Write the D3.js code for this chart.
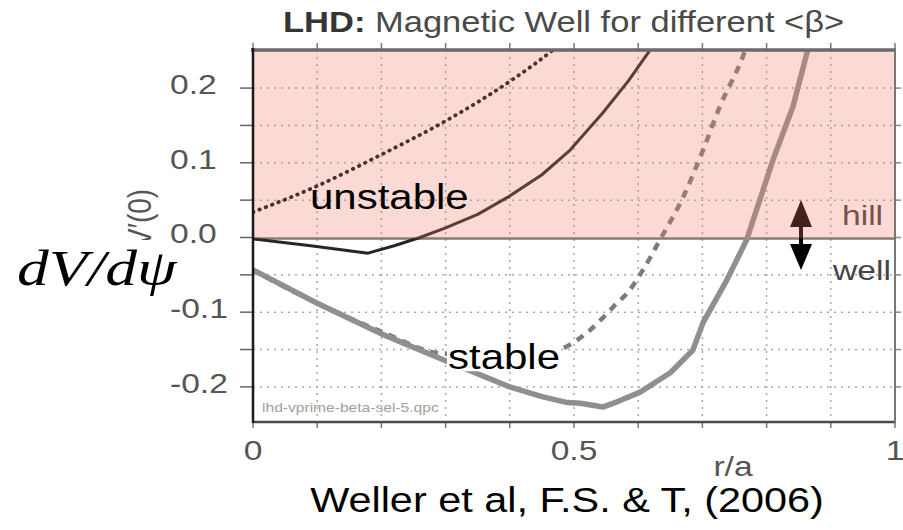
<!DOCTYPE html>
<html>
<head>
<meta charset="utf-8">
<script src="https://cdn.jsdelivr.net/npm/d3@7/dist/d3.min.js"></script>
<style>
  html, body { margin: 0; padding: 0; background: #fff; }
  svg { display: block; }
</style>
</head>
<body>
<svg id="chart" width="903" height="530"></svg>
<script>
// ---------------- DATA ----------------
const titleBold = "LHD:";
const titleRest = " Magnetic Well for different <\u03b2>";
const xTickValues = [0, 0.5, 1];
const xTickLabels = ["0", "0.5", "1"];
const yTickValues = [-0.2, -0.1, 0.0, 0.1, 0.2];
const yTickLabels = ["-0.2", "-0.1", "0.0", "0.1", "0.2"];
const xLabel = "r/a";
const yLabelOriginal = "V\u2032(0)";
const yLabelOverlay = "dV/d\u03c8";
const citation = "Weller et al, F.S. & T, (2006)";
const fileTag = "lhd-vprime-beta-sel-5.qpc";
const regionLabels = ["unstable", "stable"];
const sideLabels = ["hill", "well"];

// dotted curve (highest <beta> hill)
const dottedR = [0, 0.1, 0.2, 0.3, 0.4, 0.47, 0.5];
const dottedV = [0.034, 0.069, 0.111, 0.156, 0.209, 0.253, 0.275];
// thin dark solid curve
const solidR = [0, 0.09, 0.179, 0.22, 0.26, 0.3, 0.35, 0.397, 0.45, 0.494, 0.545, 0.585, 0.621, 0.64];
const solidV = [-0.002, -0.011, -0.021, -0.011, 0.0, 0.013, 0.031, 0.054, 0.084, 0.117, 0.167, 0.21, 0.254, 0.28];
// dashed grey curve
const dashedR = [0, 0.1, 0.2, 0.29, 0.35, 0.4, 0.45, 0.478, 0.525, 0.561, 0.587, 0.607, 0.634, 0.67, 0.701, 0.727, 0.762, 0.775];
const dashedV = [-0.044, -0.088, -0.126, -0.155, -0.158, -0.159, -0.155, -0.15, -0.124, -0.093, -0.07, -0.044, -0.003, 0.054, 0.117, 0.175, 0.24, 0.27];
// thick grey solid curve
const thickR = [0, 0.1, 0.2, 0.3, 0.4, 0.45, 0.49, 0.51, 0.545, 0.57, 0.603, 0.65, 0.685, 0.701, 0.738, 0.769, 0.81, 0.841, 0.864, 0.875];
const thickV = [-0.0435, -0.088, -0.129, -0.165, -0.2, -0.213, -0.221, -0.222, -0.227, -0.219, -0.207, -0.181, -0.151, -0.114, -0.057, -0.003, 0.104, 0.175, 0.251, 0.29];

// ---------------- LAYOUT ----------------
const svg = d3.select("#chart");
const L = 253, R = 895, T = 50, B = 422;
const x = d3.scaleLinear().domain([0, 1]).range([L, R]);
const y = d3.scaleLinear().domain([-0.247, 0.251]).range([B, T]);
const SX = 1.2; // horizontal stretch of the source picture
const FONT = "'Liberation Sans', Arial, Helvetica, sans-serif";

function stext(g, px, py, str, size, anchor, fill, weight) {
  return g.append("text")
    .attr("transform", `translate(${px},${py}) scale(${SX},1)`)
    .attr("text-anchor", anchor || "start")
    .attr("font-family", FONT)
    .attr("font-size", size)
    .attr("font-weight", weight || "normal")
    .attr("fill", fill || "#000")
    .text(str);
}

const defs = svg.append("defs");
defs.append("clipPath").attr("id", "plotclip")
  .append("rect").attr("x", L).attr("y", T).attr("width", R - L).attr("height", B - T);

// ---------------- TITLE ----------------
const title = svg.append("text")
  .attr("transform", `translate(283,32) scale(1.17,1)`)
  .attr("font-family", FONT).attr("font-size", 29.5);
title.append("tspan").attr("font-weight", "bold").attr("fill", "#353535").text(titleBold);
title.append("tspan").attr("fill", "#4a4a4a").text(titleRest);

// ---------------- GRID ----------------
const plot = svg.append("g");
const hGrid = d3.range(-0.2, 0.2001, 0.05).filter(v => Math.abs(v) > 1e-6);
plot.selectAll("line.hg").data(hGrid).join("line")
  .attr("x1", L).attr("x2", R).attr("y1", d => y(d)).attr("y2", d => y(d))
  .attr("stroke", "#a8a8a8").attr("stroke-width", 1.5).attr("stroke-dasharray", "2,5");
const vGrid = d3.range(0.1, 0.95, 0.1);
plot.selectAll("line.vg").data(vGrid).join("line")
  .attr("x1", d => x(d)).attr("x2", d => x(d)).attr("y1", T).attr("y2", B)
  .attr("stroke", "#a8a8a8").attr("stroke-width", 1.5).attr("stroke-dasharray", "2,5");

// zero line
plot.append("line").attr("x1", L).attr("x2", R).attr("y1", y(0) + 1).attr("y2", y(0) + 1)
  .attr("stroke", "#7a7a7a").attr("stroke-width", 2.5);

// ---------------- CURVES ----------------
const curves = plot.append("g").attr("clip-path", "url(#plotclip)");
function series(rs, vs) { return rs.map((r, i) => [r, vs[i]]); }
const lineMono = d3.line().x(d => x(d[0])).y(d => y(d[1])).curve(d3.curveMonotoneX);
const lineLin = d3.line().x(d => x(d[0])).y(d => y(d[1])).curve(d3.curveLinear);

curves.append("path").attr("d", lineMono(series(dashedR, dashedV)))
  .attr("fill", "none").attr("stroke", "#7c7c7c").attr("stroke-width", 4.5)
  .attr("stroke-dasharray", "8,7");
curves.append("path").attr("d", lineLin(series(thickR, thickV)))
  .attr("fill", "none").attr("stroke", "#8f8f8f").attr("stroke-width", 5.5)
  .attr("stroke-linejoin", "round");
curves.append("path").attr("d", lineLin(series(solidR, solidV)))
  .attr("fill", "none").attr("stroke", "#262626").attr("stroke-width", 3)
  .attr("stroke-linejoin", "round");
curves.append("path").attr("d", lineMono(series(dottedR, dottedV)))
  .attr("fill", "none").attr("stroke", "#141414").attr("stroke-width", 3.8)
  .attr("stroke-linecap", "round").attr("stroke-dasharray", "0.5,6.3");

// hill / well arrow & labels
const ax = 801;
plot.append("path").attr("d", `M${ax},${200} L${ax - 11},${227} L${ax + 11},${227} Z`).attr("fill", "#000");
plot.append("rect").attr("x", ax - 2).attr("y", 224).attr("width", 4).attr("height", 24).attr("fill", "#000");
plot.append("path").attr("d", `M${ax - 11},${244} L${ax + 11},${244} L${ax},${270} Z`).attr("fill", "#000");
stext(plot, 842, 225, sideLabels[0], 28, "start", "#444");
stext(plot, 833, 280, sideLabels[1], 28, "start", "#444");

// file tag
stext(plot, 262, 412, fileTag, 13, "start", "#a0a0a0");

// ---------------- PINK OVERLAY (on top of curves) ----------------
svg.append("rect").attr("x", L).attr("y", T).attr("width", R - L).attr("height", y(0) + 1 - T)
  .attr("fill", "rgb(240,120,100)").attr("fill-opacity", 0.28);

// ---------------- AXES / FRAME ----------------
const frame = svg.append("g");
const yMinor = d3.range(-0.2, 0.2001, 0.05);
frame.selectAll("line.lt").data(yMinor).join("line")
  .attr("x1", L - 13).attr("x2", L).attr("y1", d => y(d)).attr("y2", d => y(d))
  .attr("stroke", "#666").attr("stroke-width", 1.5);
frame.selectAll("line.rt").data(yMinor).join("line")
  .attr("x1", R).attr("x2", R + 6).attr("y1", d => y(d)).attr("y2", d => y(d))
  .attr("stroke", "#888").attr("stroke-width", 1.5);
const xMinor = d3.range(0, 1.001, 0.1);
frame.selectAll("line.bt").data(xMinor).join("line")
  .attr("x1", d => x(d)).attr("x2", d => x(d)).attr("y1", B).attr("y2", B + 6)
  .attr("stroke", "#777").attr("stroke-width", 1.5);
frame.selectAll("line.tt").data(xMinor).join("line")
  .attr("x1", d => x(d)).attr("x2", d => x(d)).attr("y1", T - 7).attr("y2", T)
  .attr("stroke", "#777").attr("stroke-width", 1.5);

frame.append("line").attr("x1", L - 2).attr("x2", R + 1).attr("y1", T).attr("y2", T)
  .attr("stroke", "#6a6a6a").attr("stroke-width", 3.5);
frame.append("line").attr("x1", L).attr("x2", R + 1).attr("y1", B).attr("y2", B)
  .attr("stroke", "#4a4a4a").attr("stroke-width", 2.5);
frame.append("line").attr("x1", L).attr("x2", L).attr("y1", T - 2).attr("y2", B + 1)
  .attr("stroke", "#1a1a1a").attr("stroke-width", 2.5);
frame.append("line").attr("x1", R).attr("x2", R).attr("y1", T - 2).attr("y2", B + 1)
  .attr("stroke", "#777").attr("stroke-width", 2);

// tick labels
yTickValues.forEach((v, i) => stext(frame, 170, y(v) + 6, yTickLabels[i], 28, "start", "#555"));
xTickValues.forEach((v, i) => stext(frame, x(v), 460, xTickLabels[i], 28, "middle", "#555"));
stext(frame, 733, 476, xLabel, 28, "middle", "#555");

// original rotated y label (mostly hidden by the overlay below)
svg.append("text")
  .attr("transform", `translate(151,183) rotate(-90) scale(1,${SX})`)
  .attr("text-anchor", "start").attr("dx", -64)
  .attr("font-family", FONT).attr("font-size", 28)
  .attr("fill", "#555").text(yLabelOriginal);

// ---------------- OVERLAY ANNOTATIONS ----------------
svg.append("rect").attr("x", 0).attr("y", 240).attr("width", 168).attr("height", 70).attr("fill", "#fff");
svg.append("text")
  .attr("transform", `translate(17,285) scale(1.27,1)`)
  .attr("font-family", "'Liberation Serif', 'Times New Roman', serif")
  .attr("font-style", "italic").attr("font-size", 50).attr("fill", "#000")
  .text(yLabelOverlay);

stext(svg, 310, 209, regionLabels[0], 35, "start", "#000");
const st = stext(svg, 448, 369, regionLabels[1], 35, "start", "#000");
const bb = st.node().getBBox();
svg.insert("rect", () => st.node())
  .attr("x", 448 + bb.x * SX - 1).attr("y", 369 + bb.y + 3)
  .attr("width", bb.width * SX + 2).attr("height", bb.height - 8).attr("fill", "#fff");

stext(svg, 567, 512, citation, 34.5, "middle", "#000");
</script>
</body>
</html>
